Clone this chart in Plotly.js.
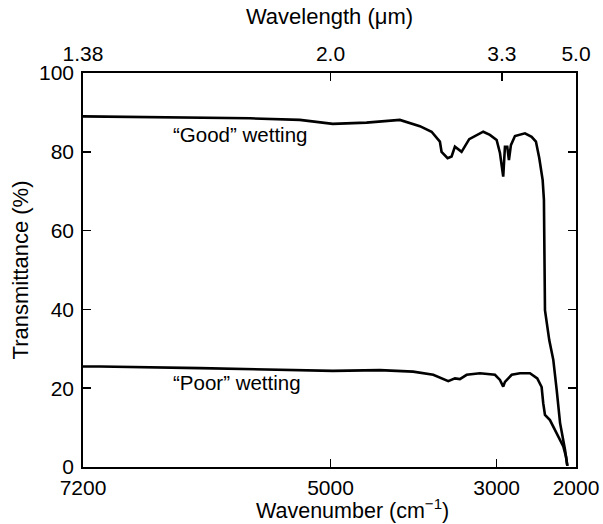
<!DOCTYPE html>
<html>
<head>
<meta charset="utf-8">
<script src="https://cdn.plot.ly/plotly-3.0.1.min.js"></script>
<style>html,body{margin:0;padding:0;background:#fff;}#chart{width:603px;height:524px;}</style>
</head>
<body>
<div id="chart"></div>
<script>
// "Good" wetting spectrum: wavenumber (cm-1) and transmittance (%)
const goodWn = [7200, 6605, 6161, 5717, 5273, 5095, 4972, 4566, 4165, 3924, 3783, 3683, 3663, 3590, 3542, 3502, 3422, 3330, 3241, 3161, 3081, 3000, 2958, 2917, 2895, 2866, 2845, 2820, 2769, 2706, 2643, 2559, 2505, 2463, 2420, 2404, 2398, 2391, 2337, 2286, 2243, 2201, 2138, 2109];
const goodT  = [89.0, 88.8, 88.7, 88.5, 88.1, 87.6, 87.1, 87.4, 88.1, 86.5, 85.1, 82.6, 80.0, 78.4, 78.8, 81.3, 80.0, 83.2, 84.3, 85.1, 84.3, 83.0, 79.7, 73.7, 81.3, 81.3, 77.9, 81.7, 84.0, 84.3, 84.7, 83.8, 82.6, 78.4, 72.8, 67.8, 55.1, 39.8, 32.2, 27.2, 19.5, 11.2, 4.3, 0.3];

// "Poor" wetting spectrum
const poorWn = [7200, 7049, 6161, 5273, 4972, 4406, 4005, 3763, 3642, 3582, 3502, 3442, 3361, 3201, 3020, 2958, 2917, 2895, 2853, 2810, 2706, 2580, 2488, 2433, 2413, 2391, 2328, 2252, 2201, 2160, 2126, 2109];
const poorT  = [25.5, 25.5, 25.1, 24.6, 24.4, 24.6, 24.2, 23.4, 22.3, 21.8, 22.5, 22.3, 23.4, 23.8, 23.4, 22.1, 20.4, 21.6, 22.5, 23.4, 23.8, 23.8, 22.5, 20.3, 16.2, 13.2, 11.9, 9.0, 6.9, 5.2, 2.6, 0.3];

// Axis ticks
const bottomTickWn = [7200, 5000, 3000, 2000];
const bottomTickLabels = ['7200', '5000', '3000', '2000'];
const topTickWn = [7200, 5000, 2935, 2000];
const topTickLabels = ['1.38', '2.0', '3.3', '5.0'];
const yTicks = [0, 20, 40, 60, 80, 100];

// The instrument's wavenumber scale is piecewise linear (scale changes at 5000 and 3000 cm-1)
const scaleWn = [7200, 5000, 3000, 2000];
const scaleFrac = [0, 0.502, 0.839, 1];
function wnToAxis(wn) {
  for (let i = 0; i < scaleWn.length - 1; i++) {
    const a = scaleWn[i], b = scaleWn[i + 1];
    if (wn <= a && wn >= b) {
      return scaleFrac[i] + (a - wn) / (a - b) * (scaleFrac[i + 1] - scaleFrac[i]);
    }
  }
  return wn > scaleWn[0] ? 0 : 1;
}

const FONT = 'Liberation Sans, Arial, Helvetica, sans-serif';
const FS = 22;
const TFS = 21;
const lineStyle = {color: '#000', width: 2.6};

const traces = [
  {x: goodWn.map(wnToAxis), y: goodT, mode: 'lines', line: lineStyle, name: 'Good', hoverinfo: 'skip'},
  {x: poorWn.map(wnToAxis), y: poorT, mode: 'lines', line: lineStyle, name: 'Poor', hoverinfo: 'skip'}
];

const layout = {
  width: 603, height: 524,
  margin: {l: 83, r: 27, t: 73, b: 57},
  paper_bgcolor: '#fff', plot_bgcolor: '#fff',
  showlegend: false,
  font: {family: FONT, size: FS, color: '#000'},
  xaxis: {
    range: [0, 1], tickmode: 'array',
    tickvals: bottomTickWn.map(wnToAxis), ticktext: bottomTickLabels,
    ticks: 'inside', ticklen: 8, tickwidth: 1.6, tickcolor: '#000',
    showline: true, linewidth: 1.8, linecolor: '#000', mirror: true,
    showgrid: false, zeroline: false, ticklabelstandoff: 1,
    tickfont: {family: FONT, size: TFS, color: '#000'}
  },
  xaxis2: {
    overlaying: 'x', side: 'top', anchor: 'y',
    range: [0, 1], tickmode: 'array',
    tickvals: topTickWn.map(wnToAxis), ticktext: topTickLabels,
    ticks: 'inside', ticklen: 8, tickwidth: 1.6, tickcolor: '#000',
    showline: false, showgrid: false, zeroline: false, ticklabelstandoff: 7,
    tickfont: {family: FONT, size: TFS, color: '#000'},
    title: {text: 'Wavelength (μm)', font: {family: FONT, size: FS, color: '#000'}, standoff: 11}
  },
  yaxis: {
    range: [0, 100], tickmode: 'array', tickvals: yTicks, ticktext: yTicks.map(String),
    ticks: 'inside', ticklen: 8, tickwidth: 1.6, tickcolor: '#000',
    showline: true, linewidth: 1.8, linecolor: '#000', mirror: 'ticks',
    showgrid: false, zeroline: false, ticklabelstandoff: 3,
    tickfont: {family: FONT, size: TFS, color: '#000'},
    title: {text: 'Transmittance (%)', font: {family: FONT, size: FS, color: '#000'}, standoff: 4}
  },
  annotations: [
    {xref: 'paper', yref: 'paper', x: 0.546, y: -0.106, xanchor: 'center', yanchor: 'middle', borderpad: 0,
     text: 'Wavenumber (cm<sup>−1</sup>)', showarrow: false, font: {family: FONT, size: 21.5, color: '#000'}},
    {xref: 'paper', yref: 'y', x: 0.178, y: 84.3, xanchor: 'left', yanchor: 'middle',
     text: '“Good” wetting', showarrow: false, font: {family: FONT, size: 20.5, color: '#000'}},
    {xref: 'paper', yref: 'y', x: 0.178, y: 21.4, xanchor: 'left', yanchor: 'middle',
     text: '“Poor” wetting', showarrow: false, font: {family: FONT, size: 20.5, color: '#000'}}
  ]
};

// invisible carrier so the top (wavelength) axis is drawn
traces.push({x: [0, 1], y: [null, null], xaxis: 'x2', yaxis: 'y', mode: 'lines', showlegend: false, hoverinfo: 'skip'});

Plotly.newPlot('chart', traces, layout, {displayModeBar: false, staticPlot: true});
</script>
</body>
</html>
